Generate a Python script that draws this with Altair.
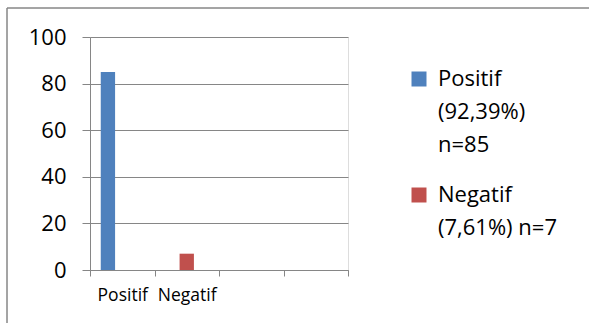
import altair as alt
import pandas as pd

# Data
categories = ["Positif", "Negatif", "c3", "c4"]
series = ["Positif", "Negatif", "s3"]
bar_category = ["Positif", "Negatif"]
bar_series = ["Positif", "Negatif"]
bar_values = [85, 7]
legend_lines = {
    "Positif": ["Positif", "(92,39%)", "n=85"],
    "Negatif": ["Negatif", "(7,61%) n=7"],
}
y_ticks = [0, 20, 40, 60, 80, 100]

df = pd.DataFrame({"category": bar_category, "series": bar_series, "value": bar_values})

FONT = "Open Sans"
GRID = "#868686"

label_expr = " : ".join(
    [f"datum.label == '{k}' ? {v!r}" for k, v in legend_lines.items()]
) + " : datum.label"

W, H = 258, 233

bars = alt.Chart(df).mark_bar().encode(
    x=alt.X(
        "category:N",
        scale=alt.Scale(domain=categories, paddingInner=0, paddingOuter=0),
        sort=categories,
        axis=alt.Axis(
            title=None,
            labelExpr="indexof(['c3','c4'], datum.label) >= 0 ? '' : datum.label",
            tickBand="extent",
            tickSize=6,
            tickColor=GRID,
            domainColor=GRID,
            labelFont=FONT,
            labelFontSize=17.5,
            labelColor="#000000",
            labelPadding=10,
            labelAngle=0,
            labelOverlap=False,
            labelBound=False,
            grid=False,
        ),
    ),
    xOffset=alt.XOffset(
        "series:N",
        scale=alt.Scale(domain=series, paddingInner=0, paddingOuter=0.75),
    ),
    y=alt.Y(
        "value:Q",
        scale=alt.Scale(domain=[0, 100], nice=False),
        axis=alt.Axis(
            title=None,
            values=y_ticks,
            tickSize=8,
            tickColor=GRID,
            domainColor=GRID,
            gridColor=GRID,
            gridWidth=1,
            labelFont=FONT,
            labelFontSize=22,
            labelColor="#000000",
            labelPadding=16,
        ),
    ),
    color=alt.Color(
        "series:N",
        scale=alt.Scale(domain=["Positif", "Negatif"], range=["#4F81BD", "#C0504D"]),
        legend=alt.Legend(
            title=None,
            orient="none",
            legendX=318,
            legendY=31,
            padding=0,
            symbolType="square",
            symbolSize=225,
            symbolStrokeWidth=0,
            labelFont=FONT,
            labelFontSize=22,
            labelColor="#000000",
            labelOffset=8,
            labelLimit=300,
            rowPadding=28,
            labelExpr=label_expr,
        ),
    ),
)

border_top = alt.Chart(df).mark_rule(color=GRID, strokeWidth=1).encode(
    x=alt.value(-83), x2=alt.value(499), y=alt.value(-29)
)
border_left = alt.Chart(df).mark_rule(color=GRID, strokeWidth=1).encode(
    x=alt.value(-83), y=alt.value(-29), y2=alt.value(286)
)

chart = alt.layer(bars, border_top, border_left).properties(
    width=W,
    height=H,
    padding={"left": 90, "top": 37, "right": 241, "bottom": 53},
    autosize=alt.AutoSizeParams(type="none"),
    background="white",
).configure_view(stroke=None).configure_axis(
    domainWidth=1, tickWidth=1
).configure(style={"guide-label": {"lineHeight": 33}})

chart.save("out.html", embed_options={"renderer": "svg", "actions": False})
